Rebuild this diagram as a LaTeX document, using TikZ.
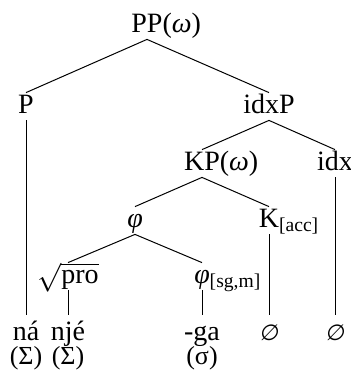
\documentclass[tikz,border=0pt]{standalone}
\usepackage{amsmath,amssymb}
\usepackage{fontspec}
\setmainfont{Liberation Serif}
\newfontfamily\symfont[FakeSlant=0.15]{DejaVu Sans}
\usetikzlibrary{positioning}
\tikzset{
  cat/.style={
    anchor=base, inner sep=0pt,
    text height=10pt, text depth=3.5pt
  },
  leaf/.style={
    cat, text height=12.5pt
  },
  gloss/.style={
    inner sep=0pt, text height=8.5pt,
    font=\fontsize{13}{15}\selectfont
  },
  branch/.style={draw=black, line width=0.5pt}
}
\newcommand{\nullexp}{{\symfont\fontsize{11}{13}\selectfont ∅}}

\begin{document}
\begin{tikzpicture}[x=0.5pt, y=-0.5pt, font=\fontsize{14}{16}\selectfont]
  \useasboundingbox (0,0) rectangle (350,370);

  % ---- Nodes ----
  \node[cat] (pp)    at (147,32)  {PP\rlap{(\textit{ω})}};

  \node[cat] (p)     at (26,113)  {P};
  \node[cat] (idxp)  at (269,113) {idxP};

  \node[cat] (kp)    at (202,170) {KP\rlap{(\textit{ω})}};
  \node[cat] (idx)   at (335,170) {idx};

  \node[cat] (phi)   at (135,227) {\textit{φ}};
  \node[cat] (k)     at (269,227) {K\rlap{$_{\text{[acc]}}$}};

  \node[cat] (root)  at (68,283)  {$\sqrt{\text{pro}}$};
  \node[cat] (phisg) at (202,283) {\textit{φ}\rlap{$_{\text{[sg,m]}}$}};

  % Leaves (exponents)
  \node[leaf, label={[gloss]below:(Σ)}] (na)  at (26,340)  {ná};
  \node[leaf, label={[gloss]below:(Σ)}] (nje) at (68,340)  {njé};
  \node[leaf, label={[gloss]below:(σ)}] (ga)  at (202,340) {-ga};
  \node[leaf] (kzero)   at (269,340) {\nullexp};
  \node[leaf] (idxzero) at (335,340) {\nullexp};

  % ---- Branches ----
  \draw[branch] (pp.south)   -- (p.north);
  \draw[branch] (pp.south)   -- (idxp.north);

  \draw[branch] (idxp.south) -- (kp.north);
  \draw[branch] (idxp.south) -- (idx.north);

  \draw[branch] (kp.south)   -- (phi.north);
  \draw[branch] (kp.south)   -- (k.north);

  \draw[branch] (phi.south)  -- (root.north);
  \draw[branch] (phi.south)  -- (phisg.north);

  \draw[branch] (p.south)     -- (na.north);
  \draw[branch] (root.south)  -- (nje.north);
  \draw[branch] (phisg.south) -- (ga.north);
  \draw[branch] (k.south)     -- (kzero.north);
  \draw[branch] (idx.south)   -- (idxzero.north);

\end{tikzpicture}
\end{document}
